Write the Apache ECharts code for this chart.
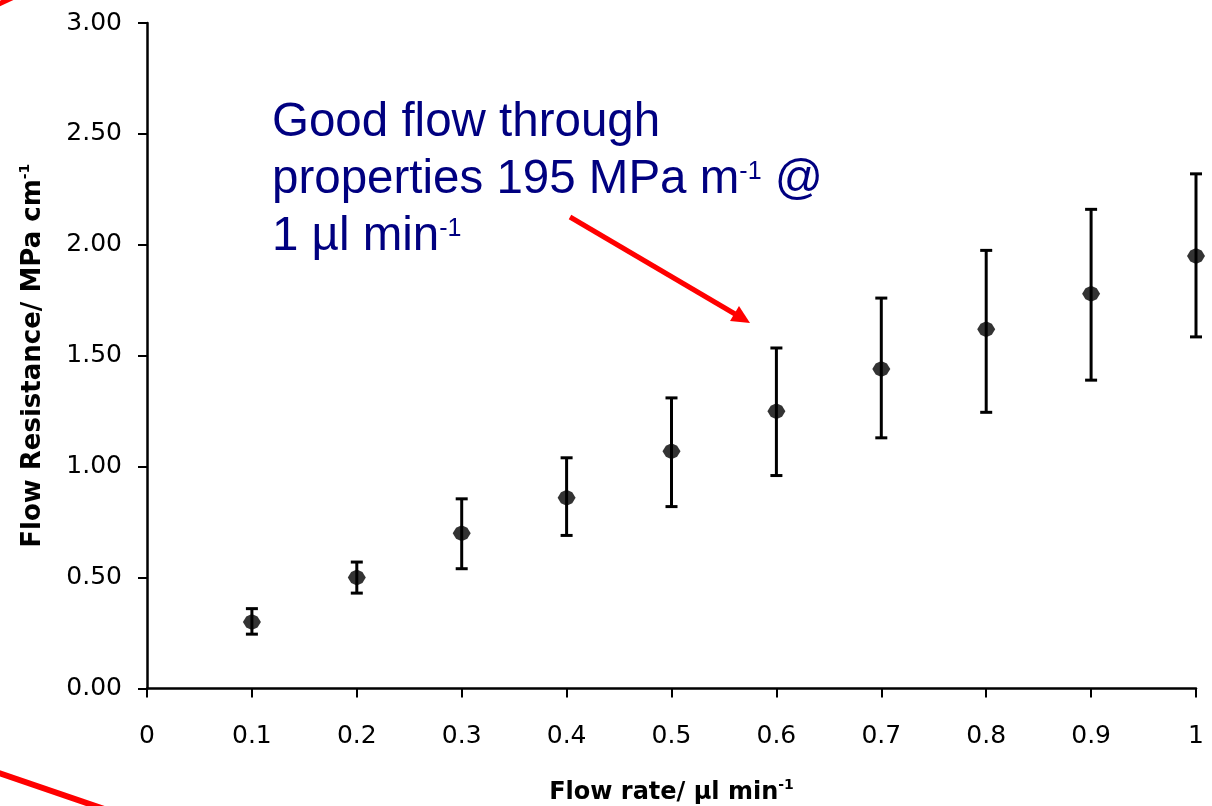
<!DOCTYPE html>
<html><head><meta charset="utf-8">
<script src="https://cdn.jsdelivr.net/npm/echarts@6.0.0/dist/echarts.min.js"></script>
<style>html,body{margin:0;padding:0;background:#fff}#c{width:1212px;height:806px}</style>
</head><body><div id="c"></div>
<script>
// Flow rate (µl/min)
const flowRate = [0.1, 0.2, 0.3, 0.4, 0.5, 0.6, 0.7, 0.8, 0.9, 1.0];
// Mean flow resistance (MPa/cm)
const resistance = [0.30, 0.50, 0.70, 0.86, 1.07, 1.25, 1.44, 1.62, 1.78, 1.95];
// Error bar upper / lower ends
const errHigh = [0.36, 0.57, 0.855, 1.04, 1.31, 1.535, 1.76, 1.975, 2.16, 2.32];
const errLow  = [0.245, 0.43, 0.54, 0.69, 0.82, 0.96, 1.13, 1.245, 1.39, 1.585];

const chartFont = 'DejaVu Sans';
const noteFont = 'Liberation Sans, Arial, sans-serif';

const chart = echarts.init(document.getElementById('c'), null, {renderer: 'canvas'});

const errData = flowRate.map((x, i) => [x, errLow[i], errHigh[i]]);
const ptData = flowRate.map((x, i) => [x, resistance[i]]);

const option = {
  animation: false,
  backgroundColor: '#ffffff',
  grid: {left: 147, right: 16, top: 23, bottom: 117.5, containLabel: false, outerBoundsMode: 'none'},
  xAxis: {
    type: 'value', min: 0, max: 1, interval: 0.1,
    name: '{t|Flow rate/ µl min}{s|-1}',
    nameLocation: 'middle', nameGap: 90,
    nameTextStyle: {
      rich: {
        t: {fontFamily: chartFont, fontWeight: 'bold', fontSize: 24, color: '#000', lineHeight: 28},
        s: {fontFamily: chartFont, fontWeight: 'bold', fontSize: 14, color: '#000', verticalAlign: 'top', lineHeight: 14}
      }
    },
    splitLine: {show: false},
    axisLine: {lineStyle: {color: '#000', width: 2.5}},
    axisTick: {inside: false, length: 9, lineStyle: {color: '#000', width: 2}},
    axisLabel: {
      margin: 35, fontFamily: chartFont, fontSize: 25, color: '#000',
      formatter: v => (Math.abs(v) < 1e-9 ? '0' : Math.abs(v - 1) < 1e-9 ? '1' : v.toFixed(1))
    }
  },
  yAxis: {
    type: 'value', min: 0, max: 3, interval: 0.5,
    name: '{t|Flow Resistance/ MPa cm}{s|-1}',
    nameLocation: 'middle', nameGap: 99, nameRotate: 90,
    nameTextStyle: {
      rich: {
        t: {fontFamily: chartFont, fontWeight: 'bold', fontSize: 26, color: '#000', lineHeight: 30},
        s: {fontFamily: chartFont, fontWeight: 'bold', fontSize: 14, color: '#000', verticalAlign: 'top', lineHeight: 15}
      }
    },
    splitLine: {show: false},
    axisLine: {show: true, lineStyle: {color: '#000', width: 2.5}},
    axisTick: {show: true, inside: false, length: 9, lineStyle: {color: '#000', width: 2}},
    axisLabel: {
      margin: 25, fontFamily: chartFont, fontSize: 25, color: '#000',
      formatter: v => v.toFixed(2)
    }
  },
  series: [
    {
      type: 'custom',
      data: errData,
      z: 2,
      renderItem: function (params, api) {
        const x = api.value(0);
        const top = api.coord([x, api.value(2)]);
        const bot = api.coord([x, api.value(1)]);
        const hw = 6;
        const st = {stroke: '#000', lineWidth: 3};
        return {
          type: 'group',
          children: [
            {type: 'line', shape: {x1: top[0], y1: top[1], x2: bot[0], y2: bot[1]}, style: st},
            {type: 'line', shape: {x1: top[0] - hw, y1: top[1], x2: top[0] + hw, y2: top[1]}, style: st},
            {type: 'line', shape: {x1: bot[0] - hw, y1: bot[1], x2: bot[0] + hw, y2: bot[1]}, style: st}
          ]
        };
      }
    },
    {
      type: 'scatter',
      data: ptData,
      z: 3,
      symbol: 'path://M0,-8 L5,-5.5 L8,0 L5,5.5 L0,8 L-5,5.5 L-8,0 L-5,-5.5 Z',
      symbolSize: [18, 16],
      itemStyle: {color: '#000'}
    }
  ],
  graphic: [
    {
      type: 'text', left: 272, top: 99, z: 10,
      style: {
        text: '{a|Good flow through}\n{a|properties 195 MPa m}{s|-1}{a| @}\n{a|1 µl min}{s|-1}',
        rich: {
          a: {fontFamily: noteFont, fontSize: 47.5, lineHeight: 57, fill: '#000080'},
          s: {fontFamily: noteFont, fontSize: 25, lineHeight: 28, fill: '#000080', verticalAlign: 'top', padding: [8, 0, 0, 0]}
        }
      }
    },
    {
      type: 'line', z: 10,
      shape: {x1: 570, y1: 217, x2: 735, y2: 314},
      style: {stroke: '#ff0000', lineWidth: 5}
    },
    {
      type: 'polygon', z: 10,
      shape: {points: [[750, 323], [730, 321], [739, 306]]},
      style: {fill: '#ff0000'}
    },
    {
      type: 'line', z: 10,
      shape: {x1: -10, y1: 8, x2: 14, y2: -3},
      style: {stroke: '#ff0000', lineWidth: 5}
    },
    {
      type: 'line', z: 10,
      shape: {x1: -10, y1: 770, x2: 110, y2: 811},
      style: {stroke: '#ff0000', lineWidth: 6}
    }
  ]
};
chart.setOption(option);
</script>
</body></html>
